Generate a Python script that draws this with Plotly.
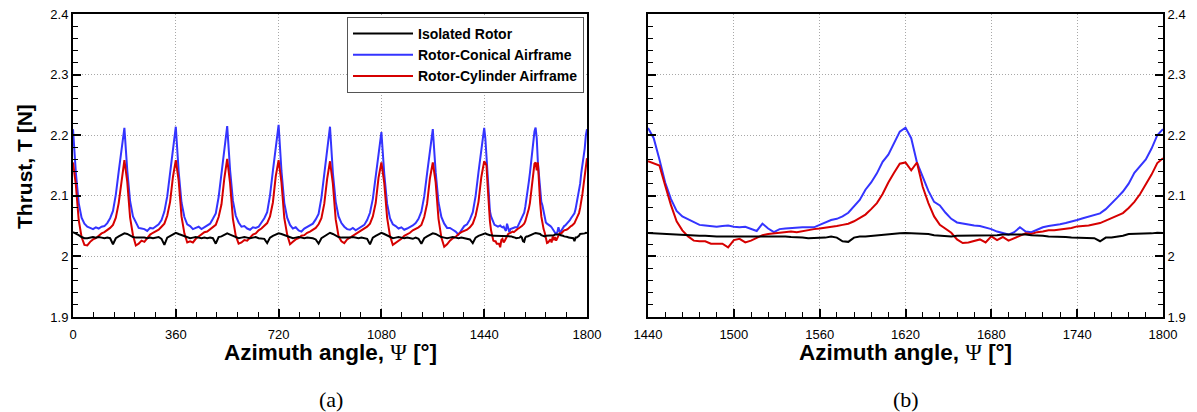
import plotly.graph_objects as go

# ---------------- data ----------------
azimuth_coarse = list(range(0, 1440, 10))      # panel (a) sampling, 0..1430 deg
azimuth_fine = list(range(1440, 1801, 4))      # panel (b) sampling, 1440..1800 deg

isolated_coarse = [
    2.040, 2.038, 2.035, 2.032, 2.030, 2.030, 2.031, 2.032, 2.031, 2.032, 2.031, 2.030, 2.031, 2.030, 2.020, 2.030, 2.033, 2.036,
    2.038, 2.037, 2.034, 2.032, 2.031, 2.031, 2.032, 2.031, 2.030, 2.031, 2.030, 2.031, 2.032, 2.029, 2.019, 2.031, 2.034, 2.036,
    2.039, 2.037, 2.035, 2.033, 2.031, 2.030, 2.031, 2.032, 2.031, 2.030, 2.031, 2.030, 2.031, 2.030, 2.021, 2.032, 2.033, 2.036,
    2.038, 2.036, 2.034, 2.032, 2.030, 2.031, 2.032, 2.031, 2.030, 2.031, 2.032, 2.030, 2.030, 2.029, 2.022, 2.031, 2.034, 2.036,
    2.038, 2.037, 2.035, 2.033, 2.031, 2.030, 2.031, 2.032, 2.031, 2.030, 2.031, 2.031, 2.030, 2.028, 2.021, 2.030, 2.033, 2.036,
    2.039, 2.037, 2.034, 2.032, 2.031, 2.031, 2.030, 2.031, 2.032, 2.031, 2.030, 2.031, 2.030, 2.029, 2.020, 2.031, 2.034, 2.037,
    2.039, 2.037, 2.035, 2.033, 2.030, 2.031, 2.032, 2.031, 2.030, 2.031, 2.030, 2.029, 2.031, 2.029, 2.021, 2.030, 2.033, 2.036,
    2.038, 2.037, 2.034, 2.032, 2.031, 2.030, 2.031, 2.032, 2.031, 2.030, 2.031, 2.030, 2.030, 2.028, 2.022, 2.031, 2.034, 2.036,
]
conical_coarse = [
    2.210, 2.138, 2.088, 2.064, 2.054, 2.049, 2.047, 2.045, 2.048, 2.046, 2.049, 2.050, 2.055, 2.063, 2.075, 2.102, 2.140, 2.176,
    2.212, 2.142, 2.091, 2.066, 2.055, 2.047, 2.046, 2.045, 2.042, 2.047, 2.046, 2.050, 2.053, 2.060, 2.074, 2.099, 2.135, 2.178,
    2.214, 2.140, 2.089, 2.065, 2.053, 2.050, 2.045, 2.047, 2.049, 2.045, 2.048, 2.051, 2.054, 2.062, 2.071, 2.098, 2.138, 2.180,
    2.215, 2.143, 2.092, 2.067, 2.056, 2.049, 2.050, 2.046, 2.044, 2.048, 2.047, 2.049, 2.056, 2.063, 2.073, 2.101, 2.141, 2.181,
    2.217, 2.141, 2.088, 2.064, 2.052, 2.046, 2.048, 2.043, 2.041, 2.046, 2.049, 2.052, 2.054, 2.061, 2.070, 2.097, 2.136, 2.177,
    2.214, 2.138, 2.090, 2.066, 2.055, 2.049, 2.045, 2.044, 2.047, 2.043, 2.046, 2.050, 2.052, 2.060, 2.072, 2.095, 2.131, 2.170,
    2.205, 2.136, 2.087, 2.063, 2.053, 2.050, 2.046, 2.048, 2.044, 2.046, 2.048, 2.051, 2.055, 2.062, 2.074, 2.099, 2.137, 2.176,
    2.210, 2.139, 2.089, 2.065, 2.054, 2.047, 2.047, 2.044, 2.041, 2.036, 2.044, 2.050, 2.053, 2.061, 2.073, 2.100, 2.139, 2.178,
]
cylinder_coarse = [
    2.155, 2.118, 2.060, 2.032, 2.019, 2.018, 2.024, 2.028, 2.030, 2.034, 2.038, 2.040, 2.043, 2.047, 2.052, 2.064, 2.088, 2.128,
    2.159, 2.123, 2.064, 2.035, 2.018, 2.021, 2.026, 2.024, 2.031, 2.036, 2.039, 2.042, 2.044, 2.049, 2.054, 2.067, 2.090, 2.131,
    2.159, 2.125, 2.066, 2.038, 2.023, 2.025, 2.023, 2.029, 2.033, 2.037, 2.040, 2.041, 2.045, 2.048, 2.052, 2.065, 2.086, 2.129,
    2.161, 2.121, 2.062, 2.034, 2.021, 2.023, 2.027, 2.026, 2.032, 2.036, 2.038, 2.043, 2.046, 2.050, 2.055, 2.066, 2.089, 2.132,
    2.159, 2.122, 2.063, 2.036, 2.020, 2.024, 2.028, 2.030, 2.034, 2.035, 2.039, 2.041, 2.044, 2.047, 2.053, 2.063, 2.087, 2.128,
    2.157, 2.120, 2.061, 2.033, 2.025, 2.022, 2.028, 2.031, 2.033, 2.037, 2.040, 2.042, 2.046, 2.049, 2.054, 2.066, 2.088, 2.130,
    2.155, 2.121, 2.064, 2.034, 2.019, 2.022, 2.025, 2.029, 2.034, 2.036, 2.039, 2.043, 2.045, 2.048, 2.052, 2.065, 2.087, 2.129,
    2.155, 2.122, 2.062, 2.031, 2.016, 2.020, 2.026, 2.030, 2.032, 2.037, 2.040, 2.042, 2.044, 2.048, 2.054, 2.067, 2.090, 2.131,
]

isolated_fine = [
    2.0385, 2.038, 2.037, 2.036, 2.036, 2.035, 2.035, 2.034, 2.034, 2.034,
    2.034, 2.033, 2.033, 2.033, 2.033, 2.033, 2.034, 2.034, 2.034, 2.034,
    2.034, 2.034, 2.033, 2.033, 2.033, 2.032, 2.032, 2.031, 2.030, 2.030,
    2.030, 2.031, 2.033, 2.031, 2.025, 2.024, 2.031, 2.033, 2.033, 2.034,
    2.035, 2.036, 2.037, 2.037, 2.038, 2.0385, 2.038, 2.038, 2.037, 2.037,
    2.035, 2.034, 2.033, 2.033, 2.034, 2.034, 2.034, 2.034, 2.034, 2.035,
    2.035, 2.035, 2.036, 2.036, 2.037, 2.036, 2.036, 2.035, 2.035, 2.034,
    2.033, 2.033, 2.032, 2.032, 2.031, 2.031, 2.031, 2.031, 2.030, 2.025,
    2.031, 2.031, 2.032, 2.034, 2.037, 2.037, 2.038, 2.038, 2.038, 2.039,
    2.0385,
]
conical_fine = [
    2.212, 2.195, 2.160, 2.122, 2.095, 2.075, 2.066, 2.061, 2.056, 2.052,
    2.051, 2.050, 2.049, 2.050, 2.051, 2.049, 2.048, 2.049, 2.045, 2.042,
    2.054, 2.046, 2.040, 2.045, 2.046, 2.047, 2.047, 2.048, 2.048, 2.048,
    2.052, 2.056, 2.060, 2.062, 2.066, 2.072, 2.082, 2.093, 2.110, 2.122,
    2.137, 2.156, 2.168, 2.186, 2.206, 2.2125, 2.195, 2.155, 2.130, 2.108,
    2.090, 2.084, 2.072, 2.062, 2.056, 2.054, 2.053, 2.051, 2.050, 2.048,
    2.045, 2.041, 2.039, 2.036, 2.040, 2.048, 2.041, 2.040, 2.044, 2.048,
    2.050, 2.051, 2.053, 2.055, 2.057, 2.060, 2.063, 2.066, 2.068, 2.071,
    2.078, 2.087, 2.097, 2.107, 2.120, 2.138, 2.150, 2.160, 2.178, 2.200,
    2.210,
]
cylinder_fine = [
    2.157, 2.154, 2.150, 2.117, 2.085, 2.058, 2.043, 2.033, 2.026, 2.025,
    2.025, 2.021, 2.021, 2.021, 2.015, 2.027, 2.029, 2.023, 2.026, 2.030,
    2.035, 2.037, 2.038, 2.039, 2.040, 2.041, 2.040, 2.042, 2.044, 2.045,
    2.046, 2.047, 2.048, 2.050, 2.052, 2.054, 2.058, 2.064, 2.069, 2.078,
    2.088, 2.103, 2.122, 2.138, 2.153, 2.155, 2.142, 2.155, 2.115, 2.088,
    2.066, 2.052, 2.045, 2.039, 2.028, 2.022, 2.023, 2.025, 2.028, 2.023,
    2.033, 2.027, 2.032, 2.026, 2.030, 2.034, 2.038, 2.037, 2.040, 2.041,
    2.043, 2.043, 2.044, 2.045, 2.047, 2.0495, 2.050, 2.051, 2.053, 2.055,
    2.059, 2.063, 2.067, 2.0715, 2.080, 2.090, 2.103, 2.118, 2.135, 2.154,
    2.162,
]

series_names = ["Isolated Rotor", "Rotor-Conical Airframe", "Rotor-Cylinder Airframe"]
series_colors = ["#000000", "#3434ff", "#d60000"]

y_ticks = [1.9, 2.0, 2.1, 2.2, 2.3, 2.4]
y_ticktext = ["1.9", "2", "2.1", "2.2", "2.3", "2.4"]
x_ticks_a = [0, 360, 720, 1080, 1440, 1800]
x_ticks_b = [1440, 1500, 1560, 1620, 1680, 1740, 1800]

# ---------------- figure ----------------
az_full = azimuth_coarse + azimuth_fine
full_series = [isolated_coarse + isolated_fine,
               conical_coarse + conical_fine,
               cylinder_coarse + cylinder_fine]
fine_series = [isolated_fine, conical_fine, cylinder_fine]

fig = go.Figure()
for i in [1, 2, 0]:
    fig.add_trace(go.Scatter(x=az_full, y=full_series[i], mode="lines",
                             name=series_names[i], legendrank=i + 1,
                             line=dict(color=series_colors[i], width=2),
                             xaxis="x", yaxis="y"))
for i in [1, 2, 0]:
    fig.add_trace(go.Scatter(x=azimuth_fine, y=fine_series[i], mode="lines",
                             name=series_names[i], showlegend=False,
                             line=dict(color=series_colors[i], width=2),
                             xaxis="x2", yaxis="y2"))

SANS = "Liberation Sans, Arial, sans-serif"
tickfont = dict(family=SANS, size=13, color="#000000")

common_axis = dict(
    showline=True, linecolor="#000000", linewidth=2,
    ticks="inside", ticklen=8, tickwidth=2, tickcolor="#000000",
    showgrid=True, gridcolor="#a8a8a8", griddash="1px,2px", gridwidth=1,
    zeroline=False, tickfont=tickfont, automargin=False,
)

minor_common = dict(ticks="inside", ticklen=5, tickwidth=1, tickcolor="#000000", showgrid=False)

xd_a = [73 / 1197, 587 / 1197]
xd_b = [648 / 1197, 1163 / 1197]
yd = [1 - 317 / 412, 1 - 14 / 412]

fig.update_layout(
    width=1197, height=412,
    margin=dict(l=0, r=0, t=0, b=0, autoexpand=False),
    paper_bgcolor="white", plot_bgcolor="white",
    showlegend=True,
    xaxis=dict(domain=xd_a, range=[0, 1800], tickmode="array", tickvals=x_ticks_a, mirror=True,
               ticklabelstandoff=4,
               minor=dict(dtick=72, tick0=0, **minor_common), anchor="y", **common_axis),
    yaxis=dict(domain=yd, range=[1.9, 2.4], tickmode="array", tickvals=y_ticks, ticktext=y_ticktext,
               mirror=True,
               minor=dict(dtick=0.02, tick0=1.9, **minor_common), anchor="x", **common_axis),
    xaxis2=dict(domain=xd_b, range=[1440, 1800], tickmode="array", tickvals=x_ticks_b, mirror=True,
                ticklabelstandoff=4,
                minor=dict(dtick=12, tick0=1440, **minor_common), anchor="y2", **common_axis),
    yaxis2=dict(domain=yd, range=[1.9, 2.4], tickmode="array", tickvals=y_ticks, ticktext=y_ticktext,
                mirror="ticks",
                minor=dict(dtick=0.02, tick0=1.9, **minor_common), anchor="x2", side="right", **common_axis),
    legend=dict(x=584 / 1197, xanchor="right", y=1 - 17 / 412, yanchor="top",
                bgcolor="white", bordercolor="#555555", borderwidth=1,
                font=dict(family=SANS, size=14, color="#000000", weight="bold"),
                tracegroupgap=0, itemwidth=60),
)

psi = "<span style=\"font-family:'Liberation Serif', 'Times New Roman', serif; font-weight:normal\">Ψ</span>"
title_font = dict(family=SANS, size=22.5, color="#000000", weight="bold")
ytitle_font = dict(family=SANS, size=21, color="#000000", weight="bold")
fig.add_annotation(text="Azimuth angle, " + psi + " [°]", x=330 / 1197, y=1 - 352 / 412,
                   xref="paper", yref="paper", showarrow=False,
                   xanchor="center", yanchor="middle", font=title_font)
fig.add_annotation(text="Azimuth angle, " + psi + " [°]", x=905.5 / 1197, y=1 - 352 / 412,
                   xref="paper", yref="paper", showarrow=False,
                   xanchor="center", yanchor="middle", font=title_font)
fig.add_annotation(text="Thrust, T [N]", x=25 / 1197, y=1 - 167 / 412, textangle=-90,
                   xref="paper", yref="paper", showarrow=False,
                   xanchor="center", yanchor="middle", font=ytitle_font)
cap_font = dict(family="Liberation Serif, 'Times New Roman', serif", size=22, color="#000000")
fig.add_annotation(text="(a)", x=331 / 1197, y=1 - 399 / 412, xref="paper", yref="paper",
                   showarrow=False, xanchor="center", yanchor="middle", font=cap_font)
fig.add_annotation(text="(b)", x=905.5 / 1197, y=1 - 399 / 412, xref="paper", yref="paper",
                   showarrow=False, xanchor="center", yanchor="middle", font=cap_font)

fig.write_html("out.html")
